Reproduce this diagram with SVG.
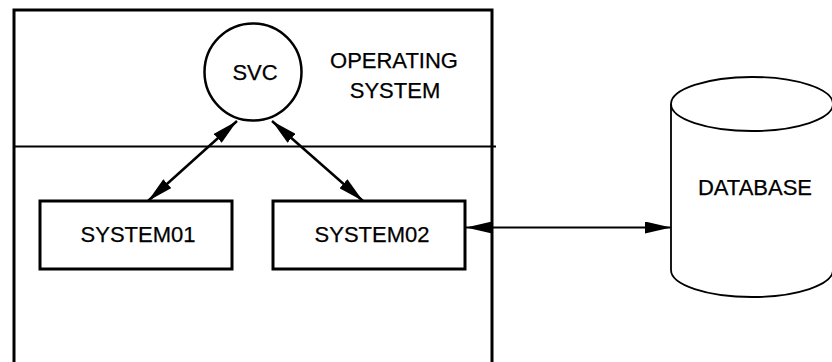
<svg xmlns="http://www.w3.org/2000/svg" width="832" height="362" viewBox="0 0 832 362">
<style>
.t{font-family:"Liberation Sans",Arial,sans-serif;font-size:22px;fill:#000;stroke:#000;stroke-width:0.25}
.box{fill:#fff;stroke:#000;stroke-width:3}
.ln{fill:none;stroke:#000;stroke-width:2.5}
.cyl{fill:#fff;stroke:#000;stroke-width:1.8}
</style>
<defs>
<marker id="ah" viewBox="0 0 26 12" refX="26" refY="6" markerWidth="26" markerHeight="12" markerUnits="userSpaceOnUse" orient="auto-start-reverse">
<path d="M0,0 L26,6 L0,12 Z" fill="#000"/>
</marker>
</defs>
<rect width="832" height="362" fill="#fff"/>
<g id="os">
<path d="M14,365 L14,10 L492,10 L492,365" class="ln" style="stroke-width:3"/>
<line x1="14" y1="146.5" x2="496" y2="146.5" stroke="#000" stroke-width="2"/>
<text class="t" x="394" y="68" text-anchor="middle">OPERATING</text>
<text class="t" x="395" y="98" text-anchor="middle">SYSTEM</text>
</g>
<g id="svc">
<circle cx="253" cy="72" r="48.5" class="ln"/>
<text class="t" x="255" y="80" text-anchor="middle">SVC</text>
</g>
<g id="system01">
<rect x="40" y="201" width="192" height="68" class="box"/>
<text class="t" x="138" y="242" text-anchor="middle">SYSTEM01</text>
</g>
<g id="system02">
<rect x="273" y="201" width="192" height="68" class="box"/>
<text class="t" x="372" y="242" text-anchor="middle">SYSTEM02</text>
</g>
<g id="database">
<path d="M671,104 L671,270 A81,27 0 0 0 833,270 L833,104" class="cyl"/>
<ellipse cx="752" cy="104" rx="81" ry="27" class="cyl"/>
<text class="t" x="755" y="195" text-anchor="middle">DATABASE</text>
</g>
<g id="connectors">
<line x1="237" y1="121" x2="148" y2="201" class="ln" marker-start="url(#ah)" marker-end="url(#ah)"/>
<line x1="272" y1="121" x2="363" y2="201" class="ln" marker-start="url(#ah)" marker-end="url(#ah)"/>
<line x1="466" y1="227.5" x2="671" y2="227.5" class="ln" style="stroke-width:2" marker-start="url(#ah)" marker-end="url(#ah)"/>
</g>
</svg>
